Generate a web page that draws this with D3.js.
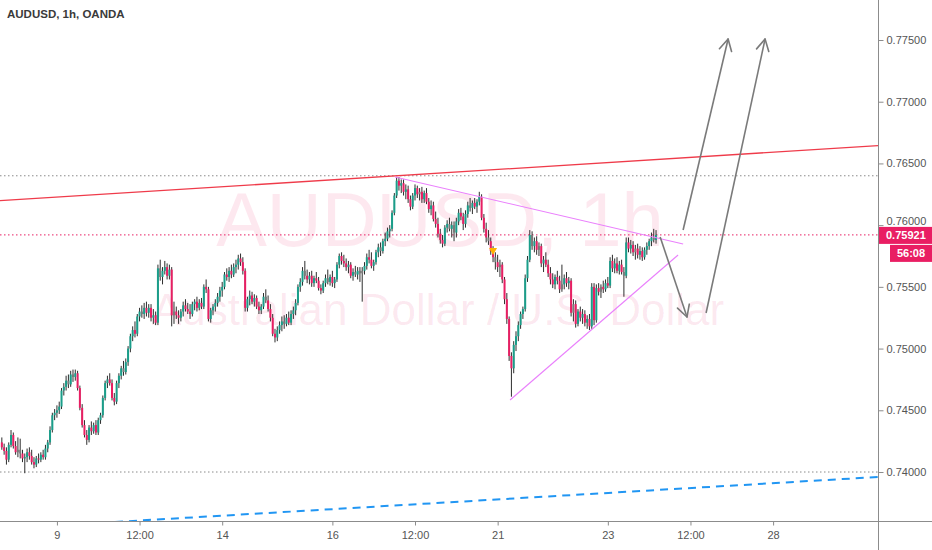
<!DOCTYPE html>
<html><head><meta charset="utf-8">
<script src="https://cdn.jsdelivr.net/npm/d3@7"></script>
<style>html,body{margin:0;padding:0;background:#fff;overflow:hidden}svg{display:block}</style>
</head><body><svg id="c" width="932" height="550"></svg>
<script>
const title = "AUDUSD, 1h, OANDA";
const watermark1 = "AUDUSD, 1h";
const watermark2 = "Australian Dollar / U.S. Dollar";
const priceTicks = [0.775, 0.770, 0.765, 0.760, 0.755, 0.750, 0.745, 0.740];
const dateTickIdx = [24, 60, 96, 144, 180, 216, 264, 300, 336];
const dateTickLabels = ["9", "12:00", "14", "16", "12:00", "21", "23", "12:00", "28"];
// hourly candles: [open, high, low, close]
const candles = [
// Thu 8
[.7424,.7428,.7418,.7420],[.7420,.7423,.7414,.7417],[.7417,.7420,.7406,.7410],[.7410,.7424,.7408,.7422],
[.7422,.7434,.7420,.7430],[.7430,.7432,.7419,.7421],[.7421,.7425,.7414,.7416],[.7416,.7428,.7412,.7418],
[.7418,.7427,.7411,.7415],[.7415,.7418,.7408,.7411],[.7411,.7415,.7399,.7412],[.7412,.7419,.7408,.7416],
[.7416,.7420,.7410,.7413],[.7413,.7418,.7406,.7408],[.7408,.7412,.7403,.7406],[.7406,.7413,.7404,.7411],
[.7411,.7415,.7407,.7410],[.7410,.7416,.7408,.7414],[.7414,.7418,.7410,.7412],[.7412,.7422,.7410,.7419],
[.7419,.7426,.7416,.7424],[.7424,.7437,.7422,.7434],[.7434,.7448,.7432,.7446],[.7446,.7451,.7442,.7448],
// Fri 9
[.7448,.7454,.7444,.7450],[.7450,.7457,.7447,.7453],[.7453,.7468,.7451,.7466],[.7466,.7472,.7462,.7469],
[.7469,.7478,.7466,.7474],[.7474,.7479,.7468,.7471],[.7471,.7482,.7469,.7479],[.7479,.7483,.7473,.7477],
[.7477,.7483,.7474,.7480],[.7480,.7482,.7466,.7468],[.7468,.7470,.7450,.7452],[.7452,.7455,.7436,.7438],
[.7438,.7442,.7428,.7430],[.7430,.7434,.7422,.7426],[.7426,.7438,.7424,.7436],[.7436,.7441,.7430,.7433],
[.7433,.7440,.7431,.7438],[.7438,.7442,.7430,.7432],[.7432,.7444,.7430,.7442],[.7442,.7448,.7439,.7446],
[.7446,.7462,.7444,.7460],[.7460,.7474,.7458,.7472],[.7472,.7478,.7468,.7475],[.7475,.7480,.7470,.7472],
// Mon 12
[.7472,.7475,.7458,.7460],[.7460,.7464,.7454,.7457],[.7457,.7474,.7455,.7472],[.7472,.7480,.7468,.7478],
[.7478,.7486,.7475,.7484],[.7484,.7490,.7478,.7481],[.7481,.7492,.7479,.7489],[.7489,.7502,.7486,.7500],
[.7500,.7512,.7497,.7510],[.7510,.7518,.7506,.7515],[.7515,.7522,.7509,.7512],[.7512,.7528,.7510,.7526],
[.7526,.7533,.7522,.7530],[.7530,.7535,.7525,.7528],[.7528,.7537,.7524,.7533],[.7533,.7538,.7526,.7529],
[.7529,.7536,.7525,.7533],[.7533,.7536,.7522,.7525],[.7525,.7532,.7520,.7527],[.7527,.7530,.7519,.7521],
[.7521,.7568,.7519,.7565],[.7565,.7572,.7555,.7558],[.7558,.7566,.7552,.7563],[.7563,.7571,.7560,.7566],
// Tue 13
[.7566,.7569,.7556,.7559],[.7559,.7568,.7556,.7564],[.7564,.7566,.7518,.7527],[.7527,.7538,.7520,.7530],
[.7530,.7534,.7524,.7527],[.7527,.7531,.7520,.7525],[.7525,.7532,.7522,.7530],[.7530,.7538,.7526,.7535],
[.7535,.7540,.7530,.7532],[.7532,.7537,.7528,.7530],[.7530,.7536,.7524,.7528],[.7528,.7538,.7526,.7536],
[.7536,.7540,.7531,.7538],[.7538,.7542,.7530,.7533],[.7533,.7540,.7531,.7537],[.7537,.7541,.7532,.7534],
[.7534,.7552,.7532,.7550],[.7550,.7556,.7545,.7548],[.7548,.7550,.7522,.7524],[.7524,.7533,.7521,.7531],
[.7531,.7536,.7527,.7534],[.7534,.7540,.7530,.7537],[.7537,.7545,.7534,.7542],[.7542,.7550,.7538,.7547],
// Wed 14
[.7547,.7554,.7542,.7550],[.7550,.7562,.7548,.7560],[.7560,.7565,.7555,.7558],[.7558,.7566,.7554,.7563],
[.7563,.7568,.7557,.7560],[.7560,.7569,.7558,.7566],[.7566,.7572,.7561,.7568],[.7568,.7576,.7564,.7573],
[.7573,.7577,.7567,.7570],[.7570,.7574,.7560,.7563],[.7563,.7565,.7530,.7533],[.7533,.7542,.7530,.7540],
[.7540,.7547,.7535,.7543],[.7543,.7546,.7536,.7538],[.7538,.7544,.7534,.7541],[.7541,.7543,.7532,.7534],
[.7534,.7538,.7528,.7531],[.7531,.7536,.7528,.7534],[.7534,.7545,.7532,.7542],[.7542,.7548,.7537,.7539],
[.7539,.7543,.7530,.7532],[.7532,.7536,.7522,.7525],[.7525,.7528,.7510,.7512],[.7512,.7516,.7505,.7509],
// Thu 15
[.7509,.7518,.7506,.7515],[.7515,.7522,.7512,.7519],[.7519,.7526,.7514,.7522],[.7522,.7527,.7516,.7520],
[.7520,.7528,.7518,.7525],[.7525,.7530,.7519,.7521],[.7521,.7531,.7519,.7528],[.7528,.7534,.7524,.7531],
[.7531,.7540,.7527,.7537],[.7537,.7552,.7535,.7550],[.7550,.7557,.7546,.7554],[.7554,.7566,.7551,.7563],
[.7563,.7571,.7556,.7559],[.7559,.7564,.7553,.7556],[.7556,.7562,.7552,.7559],[.7559,.7563,.7550,.7553],
[.7553,.7559,.7550,.7557],[.7557,.7562,.7553,.7555],[.7555,.7558,.7547,.7549],[.7549,.7552,.7544,.7547],
[.7547,.7555,.7545,.7553],[.7553,.7560,.7550,.7557],[.7557,.7564,.7552,.7554],[.7554,.7560,.7551,.7558],
// Fri 16
[.7558,.7563,.7550,.7553],[.7553,.7558,.7549,.7556],[.7556,.7570,.7554,.7568],[.7568,.7577,.7565,.7575],
[.7575,.7578,.7568,.7571],[.7571,.7576,.7566,.7569],[.7569,.7573,.7563,.7566],[.7566,.7571,.7561,.7568],
[.7568,.7570,.7557,.7559],[.7559,.7565,.7555,.7562],[.7562,.7567,.7558,.7560],[.7560,.7566,.7556,.7563],
[.7563,.7566,.7554,.7561],[.7561,.7566,.7538,.7563],[.7563,.7570,.7560,.7567],[.7567,.7577,.7564,.7574],
[.7574,.7580,.7569,.7572],[.7572,.7578,.7565,.7567],[.7567,.7572,.7563,.7570],[.7570,.7580,.7568,.7578],
[.7578,.7585,.7574,.7582],[.7582,.7586,.7575,.7579],[.7579,.7589,.7577,.7587],[.7587,.7594,.7583,.7589],
// Mon 19
[.7589,.7598,.7587,.7595],[.7595,.7600,.7590,.7597],[.7597,.7612,.7595,.7610],[.7610,.7626,.7608,.7624],
[.7624,.7639,.7622,.7636],[.7636,.7639,.7628,.7632],[.7632,.7637,.7626,.7634],[.7634,.7637,.7624,.7627],
[.7627,.7633,.7621,.7629],[.7629,.7632,.7618,.7621],[.7621,.7624,.7612,.7615],[.7615,.7626,.7613,.7624],
[.7624,.7633,.7620,.7630],[.7630,.7632,.7622,.7625],[.7625,.7630,.7620,.7627],[.7627,.7631,.7618,.7621],
[.7621,.7628,.7618,.7626],[.7626,.7630,.7617,.7619],[.7619,.7622,.7610,.7613],[.7613,.7620,.7608,.7616],
[.7616,.7619,.7603,.7605],[.7605,.7611,.7598,.7601],[.7601,.7606,.7590,.7593],[.7593,.7597,.7585,.7588],
// Tue 20
[.7588,.7592,.7582,.7585],[.7585,.7600,.7583,.7598],[.7598,.7604,.7594,.7601],[.7601,.7606,.7595,.7597],
[.7597,.7603,.7590,.7600],[.7600,.7603,.7587,.7594],[.7594,.7606,.7590,.7603],[.7603,.7613,.7600,.7610],
[.7610,.7614,.7604,.7607],[.7607,.7610,.7596,.7601],[.7601,.7612,.7598,.7609],[.7609,.7619,.7606,.7616],
[.7616,.7622,.7611,.7614],[.7614,.7620,.7609,.7618],[.7618,.7622,.7613,.7615],[.7615,.7621,.7610,.7619],
[.7619,.7627,.7616,.7623],[.7623,.7625,.7604,.7606],[.7606,.7609,.7594,.7597],[.7597,.7602,.7586,.7590],
[.7590,.7596,.7584,.7587],[.7587,.7590,.7576,.7579],[.7579,.7583,.7570,.7574],[.7574,.7578,.7564,.7570],
// Wed 21
[.7570,.7576,.7562,.7566],[.7566,.7572,.7558,.7568],[.7568,.7570,.7553,.7556],[.7556,.7558,.7536,.7540],
[.7540,.7545,.7520,.7524],[.7524,.7526,.7490,.7494],[.7494,.7497,.7461,.7484],[.7484,.7506,.7480,.7503],
[.7503,.7514,.7498,.7510],[.7510,.7522,.7506,.7519],[.7519,.7530,.7516,.7528],[.7528,.7534,.7524,.7532],
[.7532,.7560,.7530,.7557],[.7557,.7575,.7554,.7572],[.7572,.7596,.7570,.7592],[.7592,.7595,.7580,.7583],
[.7583,.7590,.7578,.7587],[.7587,.7591,.7576,.7580],[.7580,.7586,.7575,.7583],[.7583,.7585,.7566,.7569],
[.7569,.7575,.7562,.7572],[.7572,.7578,.7566,.7568],[.7568,.7572,.7558,.7561],[.7561,.7566,.7552,.7556],
// Thu 22
[.7556,.7561,.7549,.7552],[.7552,.7560,.7548,.7558],[.7558,.7563,.7552,.7555],[.7555,.7559,.7545,.7548],
[.7548,.7568,.7546,.7552],[.7552,.7560,.7548,.7557],[.7557,.7562,.7550,.7553],[.7553,.7558,.7548,.7555],
[.7555,.7557,.7526,.7529],[.7529,.7540,.7522,.7536],[.7536,.7539,.7517,.7520],[.7520,.7532,.7518,.7530],
[.7530,.7534,.7522,.7525],[.7525,.7532,.7520,.7528],[.7528,.7531,.7518,.7521],[.7521,.7527,.7516,.7524],
[.7524,.7528,.7515,.7518],[.7518,.7553,.7516,.7550],[.7550,.7553,.7519,.7523],[.7523,.7552,.7521,.7549],
[.7549,.7553,.7543,.7546],[.7546,.7552,.7541,.7550],[.7550,.7555,.7545,.7548],[.7548,.7556,.7546,.7553],
// Fri 23
[.7553,.7558,.7549,.7551],[.7551,.7574,.7549,.7571],[.7571,.7576,.7562,.7565],[.7565,.7573,.7561,.7569],
[.7569,.7574,.7561,.7563],[.7563,.7571,.7560,.7568],[.7568,.7572,.7560,.7562],[.7562,.7566,.7542,.7559],
[.7559,.7590,.7557,.7586],[.7586,.7590,.7578,.7581],[.7581,.7588,.7577,.7584],[.7584,.7587,.7575,.7578],
[.7578,.7584,.7572,.7581],[.7581,.7585,.7573,.7576],[.7576,.7583,.7572,.7579],[.7579,.7582,.7571,.7574],
[.7574,.7582,.7572,.7580],[.7580,.7586,.7576,.7583],[.7583,.7589,.7580,.7587],[.7587,.7594,.7583,.7590],
[.7590,.7597,.7586,.7588],[.7588,.7596,.7585,.75921]
];
const greyBars = [7,8,29,31,53,61,69,75,115,123,132,142,154,156,157,165,182,195,197,204,212,215,217,231,234,244,249,261,271,276,284];
const lastPrice = 0.75921;
const countdown = "56:08";
const levelLines = [0.764, 0.740];
const resistance = [[-1, 0.76198], [382, 0.76645]];
const support = [[49.3, 0.73595], [382, 0.7396]];
const triUpper = [[171.3, 0.7639], [296.8, 0.75847]];
const triLower = [[221.4, 0.74583], [294.6, 0.75758]];
const arrows = [
  [[296.8, 0.75961], [316.4, 0.77508]],
  [[286.8, 0.75904], [298.5, 0.75256]],
  [[306.8, 0.75288], [332.5, 0.77508]]
];
const marker = [214, 0.75782];

const W = 932, H = 550, axisX = 878, axisY = 521;
const svg = d3.select("#c");
const x = d3.scaleLinear().domain([-0.8, 381.7]).range([0, axisX]);
const y = d3.scaleLinear().domain([0.740, 0.775]).range([472, 40]);
const FONT = "'Liberation Sans', Arial, sans-serif";

svg.append("rect").attr("width", W).attr("height", H).attr("fill", "#fff");
svg.append("defs").append("clipPath").attr("id", "plot")
  .append("rect").attr("x", 0).attr("y", 0).attr("width", axisX).attr("height", axisY);

// watermark
const wm = svg.append("g").attr("fill", "rgba(233,30,99,0.1)").attr("font-family", FONT).attr("text-anchor", "middle");
wm.append("text").attr("x", 440).attr("y", 246).attr("font-size", 76).text(watermark1);
wm.append("text").attr("x", 438).attr("y", 325).attr("font-size", 44).text(watermark2);

const plot = svg.append("g").attr("clip-path", "url(#plot)");

// horizontal levels
plot.selectAll("line.lvl").data(levelLines).join("line")
  .attr("x1", 0).attr("x2", axisX).attr("y1", d => y(d)).attr("y2", d => y(d))
  .attr("stroke", "#8a8a8a").attr("stroke-width", 1).attr("stroke-dasharray", "1.5,2.5");
plot.append("line").attr("x1", 0).attr("x2", axisX).attr("y1", y(lastPrice)).attr("y2", y(lastPrice))
  .attr("stroke", "#e91e63").attr("stroke-width", 1).attr("stroke-dasharray", "1.5,2.5");

const seg = (g, pts, stroke, w, dash) => g.append("line")
  .attr("x1", x(pts[0][0])).attr("y1", y(pts[0][1])).attr("x2", x(pts[1][0])).attr("y2", y(pts[1][1]))
  .attr("stroke", stroke).attr("stroke-width", w).attr("stroke-dasharray", dash || null);

seg(plot, resistance, "#ef3b4a", 1.3);
seg(plot, support, "#2196f3", 2, "8,6");

// candles
const greySet = new Set(greyBars);
const col = (d, i) => greySet.has(i) ? "#7a7a7a" : (d[3] >= d[0] ? "#1a9e8a" : "#e91e63");
const cg = plot.append("g");
cg.selectAll("line.w").data(candles).join("line")
  .attr("x1", (d, i) => x(i)).attr("x2", (d, i) => x(i))
  .attr("y1", d => y(d[1])).attr("y2", d => y(d[2]))
  .attr("stroke", "#2e2e2e").attr("stroke-width", 1);
cg.selectAll("rect").data(candles).join("rect")
  .attr("x", (d, i) => x(i) - 1).attr("width", 2)
  .attr("y", d => y(Math.max(d[0], d[3])))
  .attr("height", d => Math.max(1, Math.abs(y(d[0]) - y(d[3]))))
  .attr("fill", col);

seg(plot, triUpper, "#ea80fc", 1.1);
seg(plot, triLower, "#ea80fc", 1.1);

// arrows
arrows.forEach(a => {
  const x1 = x(a[0][0]), y1 = y(a[0][1]), x2 = x(a[1][0]), y2 = y(a[1][1]);
  seg(plot, a, "#7a7a7a", 1.6);
  const ang = Math.atan2(y1 - y2, x1 - x2), L = 13, spread = 0.5;
  [ang - spread, ang + spread].forEach(t => {
    plot.append("line").attr("x1", x2).attr("y1", y2)
      .attr("x2", x2 + L * Math.cos(t)).attr("y2", y2 + L * Math.sin(t))
      .attr("stroke", "#7a7a7a").attr("stroke-width", 1.6).attr("stroke-linecap", "round");
  });
});

// event marker
const mx = x(marker[0]), my = y(marker[1]);
plot.append("path").attr("d", `M${mx - 4},${my - 4}L${mx + 4},${my - 4}L${mx},${my + 3}Z`).attr("fill", "#ffb300");

// axes
svg.append("line").attr("x1", axisX + 0.5).attr("x2", axisX + 0.5).attr("y1", 0).attr("y2", H).attr("stroke", "#8c8c8c");
svg.append("line").attr("x1", 0).attr("x2", W).attr("y1", axisY + 0.5).attr("y2", axisY + 0.5).attr("stroke", "#8c8c8c");

const ya = svg.append("g").attr("transform", `translate(${axisX + 0.5},0)`)
  .call(d3.axisRight(y).tickValues(priceTicks).tickFormat(d3.format(".5f")).tickSize(5).tickPadding(3));
ya.select(".domain").remove();
ya.selectAll("line").attr("stroke", "#8c8c8c");
ya.selectAll("text").attr("font-family", FONT).attr("font-size", 11).attr("fill", "#555");
// the 0.76000 label sits partly behind the last-price box, as in the original
ya.selectAll(".tick").filter(d => Math.abs(d - 0.760) < 1e-9).select("text").attr("dy", "-0.05em");

const xa = svg.append("g").attr("transform", `translate(0,${axisY + 0.5})`)
  .call(d3.axisBottom(x).tickValues(dateTickIdx).tickFormat((d, i) => dateTickLabels[i]).tickSize(4).tickPadding(6));
xa.select(".domain").remove();
xa.selectAll("line").attr("stroke", "#8c8c8c");
xa.selectAll("text").attr("font-family", FONT).attr("font-size", 11).attr("fill", "#555");

// last price label
const ly = y(lastPrice);
svg.append("rect").attr("x", axisX + 1).attr("y", ly - 8).attr("width", W - axisX - 1).attr("height", 17).attr("fill", "#e91e63");
svg.append("text").attr("x", axisX + 8).attr("y", ly + 4).attr("font-family", FONT).attr("font-size", 11)
  .attr("font-weight", "bold").attr("fill", "#fff").text(d3.format(".5f")(lastPrice));
svg.append("rect").attr("x", 890).attr("y", ly + 10).attr("width", W - 890).attr("height", 17).attr("fill", "#e91e63");
svg.append("text").attr("x", 911).attr("y", ly + 22.5).attr("text-anchor", "middle").attr("font-family", FONT)
  .attr("font-size", 11).attr("font-weight", "bold").attr("fill", "#fff").text(countdown);

// title
svg.append("text").attr("x", 7).attr("y", 18).attr("font-family", FONT).attr("font-size", 11.5)
  .attr("font-weight", "bold").attr("fill", "#3a3a3a").text(title);
</script></body></html>
